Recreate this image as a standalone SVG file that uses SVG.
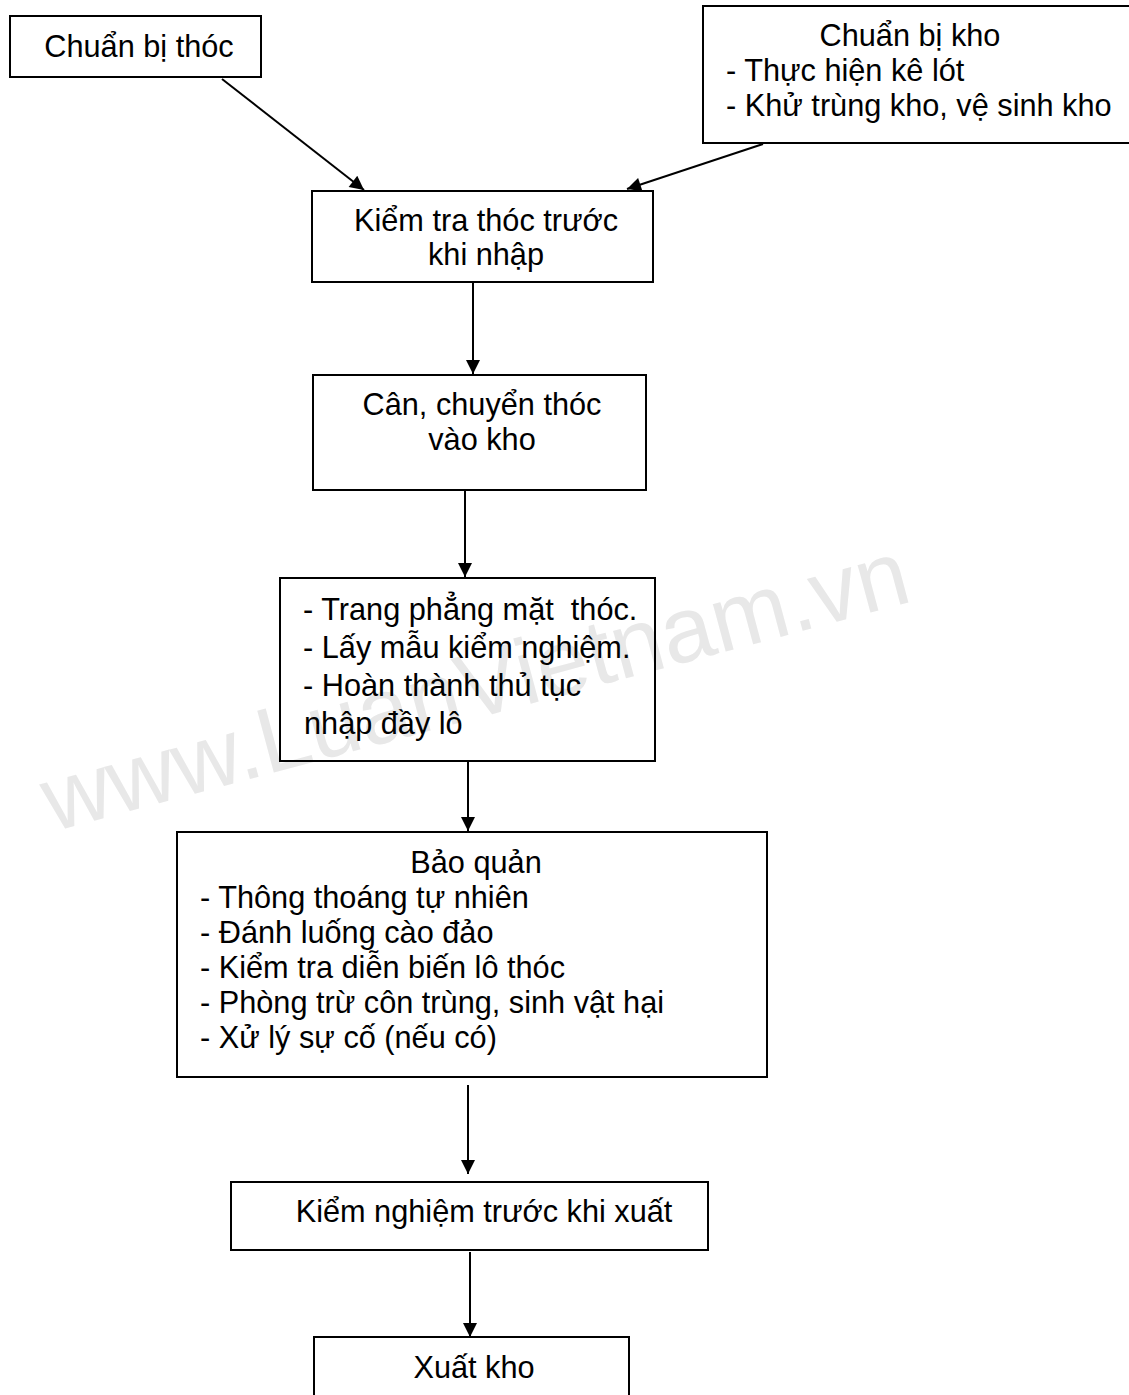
<svg xmlns="http://www.w3.org/2000/svg" width="1129" height="1395" viewBox="0 0 1129 1395">
<defs>
<marker id="ah2" viewBox="0 0 10 10" refX="10" refY="5" markerWidth="16" markerHeight="14" markerUnits="userSpaceOnUse" orient="auto">
<path d="M0,0 L10,5 L0,10 z" fill="#000"/>
</marker>
</defs>
<style>
.box{fill:none;stroke:#000;stroke-width:2}
.t{font-family:"Liberation Sans",Arial,sans-serif;font-size:30.7px;fill:#000}
.c{text-anchor:middle}
.conn{stroke:#000;stroke-width:2;fill:none;marker-end:url(#ah2)}
.wm{font-family:"Liberation Sans",Arial,sans-serif;font-size:93px;fill:#e8e8e8}
</style>
<rect width="1129" height="1395" fill="#fff"/>
<text class="wm" transform="translate(52,832) rotate(-15)">www.LuanVietnam.vn</text>

<g id="n1">
<rect class="box" x="10" y="16" width="251" height="61"/>
<text class="t c" x="139" y="57">Chuẩn bị thóc</text>
</g>
<g id="n2">
<rect class="box" x="703" y="6" width="430" height="137"/>
<text class="t c" x="910" y="46">Chuẩn bị kho</text>
<text class="t" x="726" y="81">- Thực hiện kê lót</text>
<text class="t" x="726" y="116">- Khử trùng kho, vệ sinh kho</text>
</g>
<g id="n3">
<rect class="box" x="312" y="191" width="341" height="91"/>
<text class="t c" x="486" y="231">Kiểm tra thóc trước</text>
<text class="t c" x="486" y="265">khi nhập</text>
</g>
<g id="n4">
<rect class="box" x="313" y="375" width="333" height="115"/>
<text class="t c" x="482" y="415">Cân, chuyển thóc</text>
<text class="t c" x="482" y="450">vào kho</text>
</g>
<g id="n5">
<rect class="box" x="280" y="578" width="375" height="183"/>
<text class="t" x="303" y="620" xml:space="preserve">- Trang phẳng mặt  thóc.</text>
<text class="t" x="303" y="658">- Lấy mẫu kiểm nghiệm.</text>
<text class="t" x="303" y="696">- Hoàn thành thủ tục</text>
<text class="t" x="304" y="734">nhập đầy lô</text>
</g>
<g id="n6">
<rect class="box" x="177" y="832" width="590" height="245"/>
<text class="t c" x="476" y="873">Bảo quản</text>
<text class="t" x="200" y="908">- Thông thoáng tự nhiên</text>
<text class="t" x="200" y="943">- Đánh luống cào đảo</text>
<text class="t" x="200" y="978">- Kiểm tra diễn biến lô thóc</text>
<text class="t" x="200" y="1013">- Phòng trừ côn trùng, sinh vật hại</text>
<text class="t" x="200" y="1048">- Xử lý sự cố (nếu có)</text>
</g>
<g id="n7">
<rect class="box" x="231" y="1182" width="477" height="68"/>
<text class="t c" x="484" y="1222">Kiểm nghiệm trước khi xuất</text>
</g>
<g id="n8">
<rect class="box" x="314" y="1337" width="315" height="70"/>
<text class="t c" x="474" y="1378">Xuất kho</text>
</g>

<g id="connectors">
<line class="conn" x1="222" y1="79" x2="364" y2="190"/>
<line class="conn" x1="763" y1="144" x2="627" y2="189"/>
<line class="conn" x1="473" y1="282" x2="473" y2="374"/>
<line class="conn" x1="465" y1="490" x2="465" y2="577"/>
<line class="conn" x1="468" y1="761" x2="468" y2="831"/>
<line class="conn" x1="468" y1="1085" x2="468" y2="1174"/>
<line class="conn" x1="470" y1="1252" x2="470" y2="1337"/>
</g>
</svg>
